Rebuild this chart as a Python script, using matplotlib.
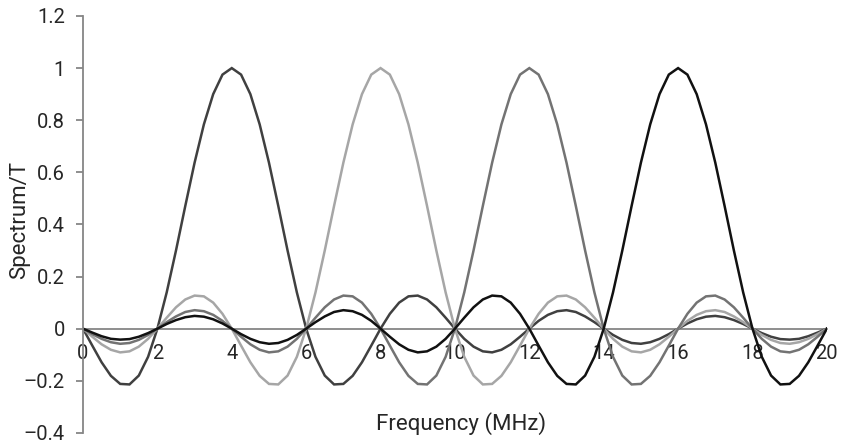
import matplotlib
matplotlib.use("Agg")
import matplotlib.pyplot as plt
import numpy as np

plt.rcParams['font.family'] = ['Roboto', 'DejaVu Sans']

freq = np.linspace(0, 20, 81)

peak4 = [0, -0.065, -0.129, -0.181, -0.212, -0.214, -0.180, -0.108, 0, 0.139, 0.300, 0.471, 0.637, 0.784, 0.900, 0.975, 1.000, 0.975, 0.900, 0.784, 0.637, 0.471, 0.300, 0.139, 0, -0.108, -0.180, -0.214, -0.212, -0.181, -0.129, -0.065, 0, 0.057, 0.100, 0.124, 0.127, 0.112, 0.082, 0.042, 0, -0.039, -0.069, -0.087, -0.091, -0.081, -0.060, -0.031, 0, 0.030, 0.053, 0.067, 0.071, 0.064, 0.047, 0.025, 0, -0.024, -0.043, -0.055, -0.058, -0.052, -0.039, -0.021, 0, 0.020, 0.036, 0.046, 0.049, 0.044, 0.033, 0.018, 0, -0.017, -0.031, -0.040, -0.042, -0.039, -0.029, -0.015, 0]

peak8 = [0, -0.031, -0.060, -0.081, -0.091, -0.087, -0.069, -0.039, 0, 0.042, 0.082, 0.112, 0.127, 0.124, 0.100, 0.057, 0, -0.065, -0.129, -0.181, -0.212, -0.214, -0.180, -0.108, 0, 0.139, 0.300, 0.471, 0.637, 0.784, 0.900, 0.975, 1.000, 0.975, 0.900, 0.784, 0.637, 0.471, 0.300, 0.139, 0, -0.108, -0.180, -0.214, -0.212, -0.181, -0.129, -0.065, 0, 0.057, 0.100, 0.124, 0.127, 0.112, 0.082, 0.042, 0, -0.039, -0.069, -0.087, -0.091, -0.081, -0.060, -0.031, 0, 0.030, 0.053, 0.067, 0.071, 0.064, 0.047, 0.025, 0, -0.024, -0.043, -0.055, -0.058, -0.052, -0.039, -0.021, 0]

peak12 = [0, -0.021, -0.039, -0.052, -0.058, -0.055, -0.043, -0.024, 0, 0.025, 0.047, 0.064, 0.071, 0.067, 0.053, 0.030, 0, -0.031, -0.060, -0.081, -0.091, -0.087, -0.069, -0.039, 0, 0.042, 0.082, 0.112, 0.127, 0.124, 0.100, 0.057, 0, -0.065, -0.129, -0.181, -0.212, -0.214, -0.180, -0.108, 0, 0.139, 0.300, 0.471, 0.637, 0.784, 0.900, 0.975, 1.000, 0.975, 0.900, 0.784, 0.637, 0.471, 0.300, 0.139, 0, -0.108, -0.180, -0.214, -0.212, -0.181, -0.129, -0.065, 0, 0.057, 0.100, 0.124, 0.127, 0.112, 0.082, 0.042, 0, -0.039, -0.069, -0.087, -0.091, -0.081, -0.060, -0.031, 0]

peak16 = [0, -0.015, -0.029, -0.039, -0.042, -0.040, -0.031, -0.017, 0, 0.018, 0.033, 0.044, 0.049, 0.046, 0.036, 0.020, 0, -0.021, -0.039, -0.052, -0.058, -0.055, -0.043, -0.024, 0, 0.025, 0.047, 0.064, 0.071, 0.067, 0.053, 0.030, 0, -0.031, -0.060, -0.081, -0.091, -0.087, -0.069, -0.039, 0, 0.042, 0.082, 0.112, 0.127, 0.124, 0.100, 0.057, 0, -0.065, -0.129, -0.181, -0.212, -0.214, -0.180, -0.108, 0, 0.139, 0.300, 0.471, 0.637, 0.784, 0.900, 0.975, 1.000, 0.975, 0.900, 0.784, 0.637, 0.471, 0.300, 0.139, 0, -0.108, -0.180, -0.214, -0.212, -0.181, -0.129, -0.065, 0]

series = [peak4, peak8, peak12, peak16]
colors = ['#404040', '#a6a6a6', '#737373', '#111111']

xticks = [0, 2, 4, 6, 8, 10, 12, 14, 16, 18, 20]
yticks = [-0.4, -0.2, 0, 0.2, 0.4, 0.6, 0.8, 1.0, 1.2]
ytick_labels = ['\u20130.4', '\u20130.2', '0', '0.2', '0.4', '0.6', '0.8', '1', '1.2']

fig = plt.figure(figsize=(8.41, 4.44), dpi=100)
ax = fig.add_axes([0.0987, 0.025, 0.8845, 0.939])

for ys, c in zip(series, colors):
    ax.plot(freq, ys, color=c, lw=1.8, solid_joinstyle='miter')

ax.set_xlim(0, 20)
ax.set_ylim(-0.4, 1.2)
ax.set_yticks(yticks)
ax.set_yticklabels(ytick_labels)
ax.set_xticks(xticks)
ax.set_xticklabels([str(t) for t in xticks])

for s in ['top', 'right']:
    ax.spines[s].set_visible(False)
ax.spines['left'].set_color('#868686')
ax.spines['left'].set_linewidth(1.3)
ax.spines['bottom'].set_position(('data', 0))
ax.spines['bottom'].set_color('#868686')
ax.spines['bottom'].set_linewidth(1.3)
ax.spines['bottom'].set_zorder(0)

ax.tick_params(axis='y', length=5, width=1.3, color='#868686', labelsize=14.5, labelcolor='#262626', pad=8)
ax.tick_params(axis='x', length=0, labelsize=14.5, labelcolor='#262626', pad=11)

fig.text(0.023, 0.505, 'Spectrum/T', rotation=90, ha='center', va='center', fontsize=16, color='#262626')
fig.text(0.548, 0.047, 'Frequency (MHz)', ha='center', va='center', fontsize=16, color='#262626')

fig.savefig('out.png', dpi=100)
